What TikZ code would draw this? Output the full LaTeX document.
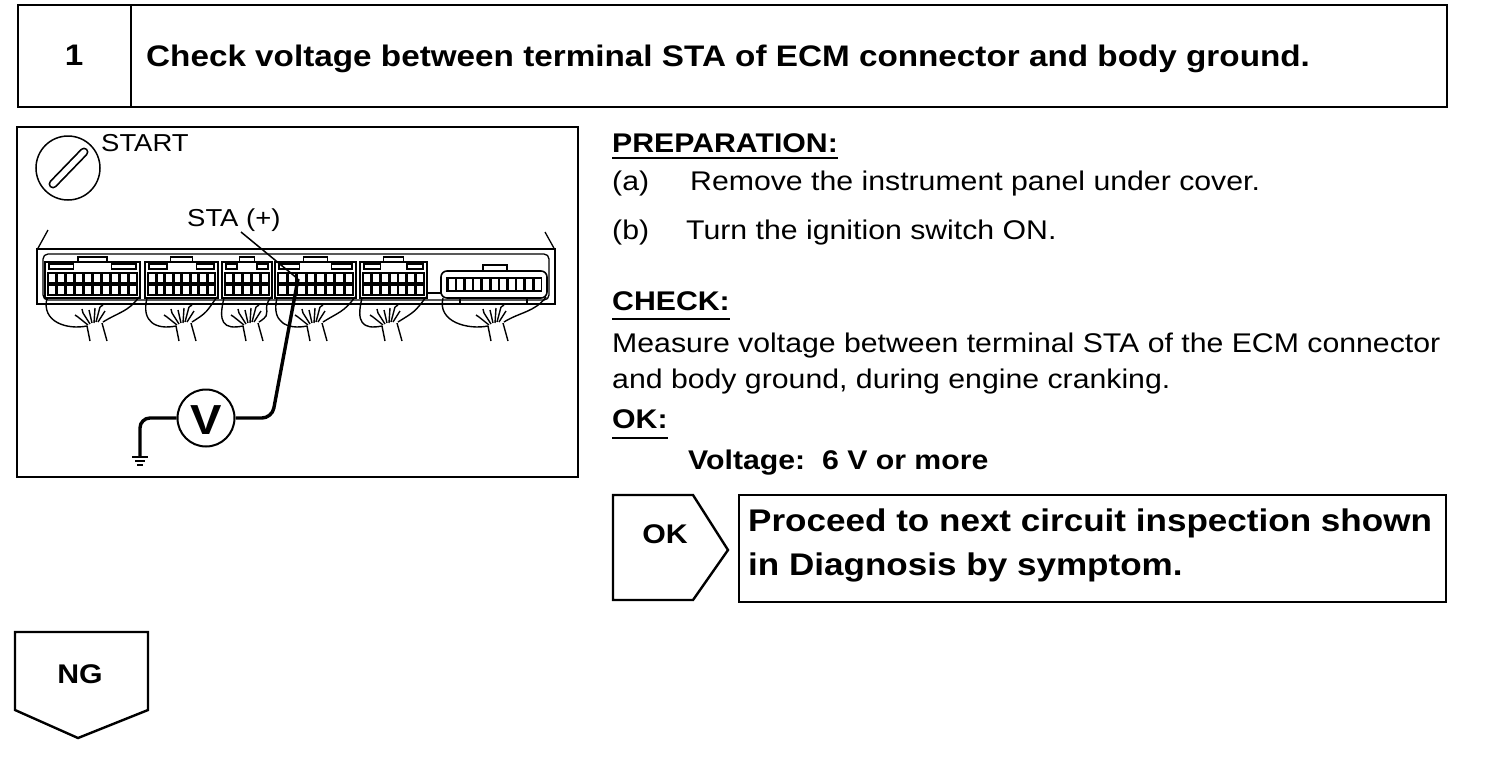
\documentclass[tikz,border=0pt]{standalone}
\usepackage{fontspec}
\setmainfont{Liberation Sans}[FakeStretch=1.12]
\newcommand\titlefs{\fontsize{29.7}{36}\selectfont}
\newcommand\bodyfs{\fontsize{27}{32}\selectfont}
\newcommand\procfs{\fontsize{31.3}{37}\selectfont}
\newcommand\lblfs{\fontsize{24.5}{29}\selectfont}
\newcommand\vfs{\fontsize{42}{50}\selectfont}
\begin{document}
\begin{tikzpicture}[x=1pt,y=-1pt,
  frame/.style={draw, line width=2.6pt},
  txt/.style={inner sep=0pt, anchor=base west},
  ctxt/.style={inner sep=0pt, anchor=base},
  uline/.style={line width=2pt},
  wire/.style={line width=1.4pt},
  probe/.style={line width=3.4pt, rounded corners=10pt},
  leader/.style={line width=1.5pt}]
\useasboundingbox (0,0) rectangle (1504,758);

% ---------- title ----------
\draw[frame] (18,5) rectangle (1447,107);
\draw[frame] (131,5) -- (131,107);
\node[ctxt] (num) at (74,65) {\titlefs\bfseries 1};
\node[txt] (title) at (146,66) {\titlefs\bfseries Check voltage between terminal STA of ECM connector and body ground.};

% ---------- illustration ----------
\draw[frame] (17,127) rectangle (578,477);
% key
\draw[line width=1.5pt] (68,168) circle[radius=32pt];
\draw[line width=9pt, line cap=round] (53,184) -- (84,152);
\draw[white, line width=5.5pt, line cap=round] (53,184) -- (84,152);
\node[txt] (start) at (101,151) {\lblfs START};
\node[txt] (sta) at (187,226) {\lblfs STA (+)};

% ECM housing
\draw[line width=1.6pt] (37,249) rectangle (555,304);
\draw[line width=1.3pt, rounded corners=5pt] (43,254) rectangle (549,300);
\draw[line width=1.3pt] (48,230) -- (37,250);
\draw[line width=1.3pt] (545,232) -- (555,250);

% connector blocks
\foreach \xa/\xb in {45/140, 145/218, 222/272, 275/356, 360/427}{
  \pgfmathsetmacro\w{\xb-\xa}
  \pgfmathtruncatemacro\n{round((\w-5)/9)}
  \pgfmathsetmacro\p{(\w-5)/\n}
  \pgfmathtruncatemacro\m{\n-1}
  \draw[line width=1.4pt, fill=white] (\xa,262) rectangle (\xb,298);
  \draw[line width=1.6pt, fill=white] (\xa+0.35*\w,257) rectangle (\xa+0.65*\w,262);
  \draw[line width=1.2pt] (\xa+4,264) rectangle (\xa+0.3*\w,269);
  \draw[line width=1.2pt] (\xb-0.3*\w,264) rectangle (\xb-4,269);
  \fill (\xa+2,272) rectangle (\xb-2,296);
  \foreach \i in {0,...,\m}{
    \fill[white] (\xa+4+\i*\p,274) rectangle ++(\p-2.8,8);
    \fill[white] (\xa+4+\i*\p,286) rectangle ++(\p-2.8,8);
  }
}
% separate round connector
\draw[line width=1.3pt] (427,293) -- (441,293);
\draw[line width=1.6pt, fill=white, rounded corners=6pt] (441,271) rectangle (547,298);
\draw[line width=1.4pt, fill=white] (483,265) rectangle (507,271);
\fill (446,277) rectangle (542,292);
\foreach \i in {0,...,10}{
  \fill[white] (448.5+\i*8.6,279) rectangle ++(6,11);
}
\draw[line width=1.3pt] (460,298) -- (460,304);
\draw[line width=1.3pt] (527,298) -- (527,304);

% wire harness loops
\foreach \xa/\xb/\c in {45/140/95, 145/218/184, 222/272/251, 275/356/315, 360/427/390, 441/547/496}{
  \draw[wire] (\xa+2,298) .. controls (\xa-4,322) and (\c-28,330) .. (\c-8,326);
  \draw[wire] (\xb-1,297) .. controls (\xb-12,312) and (\c+24,312) .. (\c+8,322);
  \draw[wire] (\c-8,326) -- (\c-5,341);
  \draw[wire] (\c+7,323) -- (\c+12,341);
  \draw[wire] (\c-7,325) -- (\c-17,317);
  \draw[wire] (\c-5,324) -- (\c-12,313);
  \draw[wire] (\c-3,323) -- (\c-6,310);
  \draw[wire] (\c-1,323) -- (\c,308);
  \draw[wire] (\c+1,322) -- (\c+5,307);
  \draw[wire] (\c+3,322) -- (\c+10,311);
  \draw[wire] (\c-17,317) -- (\c-20,315);
  \draw[wire] (\c-12,313) -- (\c-13,309);
  \draw[wire] (\c+5,307) -- (\c+8,305);
}

% meter and probes
\coordinate (tip) at (298,279);
\coordinate (ls) at (241,232);
\coordinate (gnd) at (140,456);
\node[circle, draw, line width=2pt, minimum size=57pt, inner sep=0pt] (vm) at (206,418) {};
\node[inner sep=0pt] (vlet) at (206,420) {\vfs\bfseries V};
\draw[leader] (ls) -- (tip);
\draw[probe] (vm.east) -- (272,418) -- (tip);
\draw[probe] (vm.west) -- (140,418) -- (gnd);
\draw[line width=1.8pt] (132,457) -- (148,457);
\draw[line width=1.8pt] (135,461) -- (145,461);
\draw[line width=1.8pt] (137,465) -- (143,465);

% ---------- right text ----------
\node[txt] (prep) at (612,152) {\bodyfs\bfseries PREPARATION:};
\draw[uline] ([yshift=-6pt]prep.base west) -- ([yshift=-6pt]prep.base east);
\node[txt] (a) at (612,190) {\bodyfs (a)};
\node[txt] (atext) at (690,190) {\bodyfs Remove the instrument panel under cover.};
\node[txt] (b) at (612,239) {\bodyfs (b)};
\node[txt] (btext) at (686,239) {\bodyfs Turn the ignition switch ON.};
\node[txt] (check) at (612,310) {\bodyfs\bfseries CHECK:};
\draw[uline] ([yshift=-9pt]check.base west) -- ([yshift=-9pt]check.base east);
\node[txt] (m1) at (612,352) {\bodyfs Measure voltage between terminal STA of the ECM connector};
\node[txt] (m2) at (612,388) {\bodyfs and body ground, during engine cranking.};
\node[txt] (ok) at (612,428) {\bodyfs\bfseries OK:};
\draw[uline] ([yshift=-10pt]ok.base west) -- ([yshift=-10pt]ok.base east);
\node[txt] (volt) at (688,469) {\bodyfs\bfseries Voltage:\ \ 6 V or more};

% ---------- OK result ----------
\draw[line width=2.4pt] (613,495) -- (693,495) -- (728,550) -- (693,600) -- (613,600) -- cycle;
\node[ctxt] (oklbl) at (665,543) {\bodyfs\bfseries OK};
\draw[line width=2.4pt] (739,495) rectangle (1446,602);
\node[txt] (p1) at (748,531) {\procfs\bfseries Proceed to next circuit inspection shown};
\node[txt] (p2) at (748,575) {\procfs\bfseries in Diagnosis by symptom.};

% ---------- NG ----------
\draw[line width=2.4pt] (15,632) -- (148,632) -- (148,710) -- (78,738) -- (15,710) -- cycle;
\node[ctxt] (nglbl) at (80,683) {\bodyfs\bfseries NG};
\end{tikzpicture}
\end{document}
